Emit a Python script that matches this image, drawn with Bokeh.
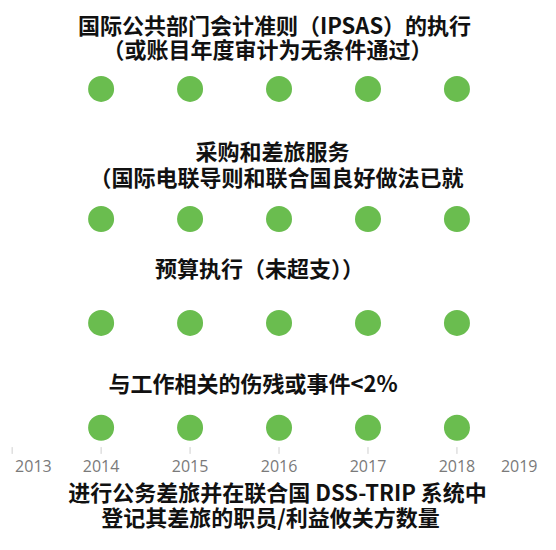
from bokeh.plotting import figure
from bokeh.models import Range1d
from bokeh.core.properties import value
from bokeh.embed import file_html
from bokeh.resources import INLINE

# ---- data ----
years = [2014, 2015, 2016, 2017, 2018]
metrics = ["IPSAS", "采购和差旅服务", "预算执行", "伤残或事件"]
achieved = [
    [1, 1, 1, 1, 1],
    [1, 1, 1, 1, 1],
    [1, 1, 1, 1, 1],
    [1, 1, 1, 1, 1],
]
tick_years = [2013, 2014, 2015, 2016, 2017, 2018, 2019]
tick_labels = ["2013", "2014", "2015", "2016", "2017", "2018", "2019"]
headings = [
    ["国际公共部门会计准则（IPSAS）的执行", "（或账目年度审计为无条件通过）"],
    ["采购和差旅服务", "（国际电联导则和联合国良好做法已就"],
    ["预算执行（未超支））"],
    ["与工作相关的伤残或事件<2%"],
]
footer = ["进行公务差旅并在联合国 DSS-TRIP 系统中", "登记其差旅的职员/利益攸关方数量"]

# ---- layout (frame pixels from top-left) ----
W, H = 540, 534
ppy = 88.96                      # pixels per year
x0 = 2013 - 11.65 / ppy
def px(fx):
    return x0 + fx / ppy

row_y = [88.4, 218.5, 322.4, 427.2]
heading_y = [[23.3, 47.0], [149.5, 175.0], [266.0], [381.6]]
heading_cx = [[274, 267], [272, 276], [259], [252.5]]
axis_y = 446.6
tick_len = 6.8
label_y = 465.0
footer_y = [490.0, 515.0]
footer_cx = [277, 270]

p = figure(width=W, height=H, output_backend="svg", toolbar_location=None,
           x_range=Range1d(x0, x0 + W / ppy), y_range=Range1d(H, 0),
           min_border=0, outline_line_color=None)
p.grid.visible = False
p.axis.visible = False
p.background_fill_color = "white"
p.border_fill_color = "white"

# tick marks of the year scale
p.segment(x0=tick_years, y0=[axis_y] * len(tick_years),
          x1=tick_years, y1=[axis_y + tick_len] * len(tick_years),
          line_color="#cfcfcf", line_width=1)

# dots
dx, dy = [], []
for r, row in enumerate(achieved):
    for yr, a in zip(years, row):
        if a:
            dx.append(yr)
            dy.append(row_y[r])
p.scatter(x=dx, y=dy, size=26, fill_color="#6ABD4F", line_color=None)

# tick labels (end labels kept inside the picture)
aligns = ["left" if t == tick_years[0] else ("right" if t == tick_years[-1] else "center")
          for t in tick_years]
tx = []
for t, al in zip(tick_years, aligns):
    if al == "left":
        tx.append(px(14.6))
    elif al == "right":
        tx.append(px(537))
    else:
        tx.append(t)
p.text(x=tx, y=[label_y] * len(tick_years), text=tick_labels, text_align=aligns,
       text_baseline="middle", text_font=value("Open Sans"), text_font_size="16px",
       text_color="#7a7a7a")

# headings and footer
hx, hy, ht = [], [], []
for lines, ys, cx in zip(headings, heading_y, heading_cx):
    for line, yy, c in zip(lines, ys, cx):
        hx.append(px(c)); hy.append(yy); ht.append(line)
for line, yy, c in zip(footer, footer_y, footer_cx):
    hx.append(px(c)); hy.append(yy); ht.append(line)
p.text(x=hx, y=hy, text=ht, text_align="center", text_baseline="middle",
       text_font=value("Noto Sans CJK SC"), text_font_style="bold",
       text_font_size="22px", text_color="#111111")

open("out.html", "w").write(file_html(p, INLINE))
